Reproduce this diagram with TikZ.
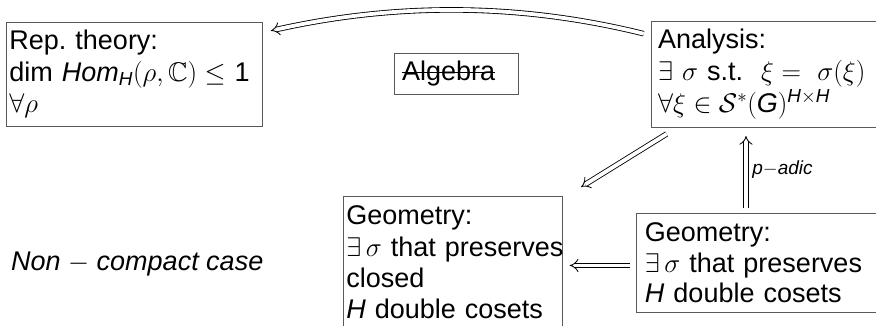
\RequirePackage{fix-cm}
\documentclass[tikz,border=0pt]{standalone}
\usepackage{amsmath,amssymb}
\usepackage{fontspec}
\setmainfont{Liberation Sans}
\usetikzlibrary{arrows.meta,calc}
\newcommand{\sit}[1]{\text{\itshape #1}}
\newcommand{\strk}[1]{\setbox0\hbox{#1}\rlap{\rule[0.3em]{\wd0}{1.1pt}}\box0}
\frenchspacing
\begin{document}
\begin{tikzpicture}[x=1pt,y=-1pt,
  box/.style={draw=black!65, line width=0.9pt, anchor=north west, align=left, inner ysep=0pt,
    font=\fontsize{27}{31.5}\selectfont\frenchspacing},
  imp/.style={double, double distance=3.8pt, line width=0.85pt, -{Implies[scale=1.55]}},
  plain/.style={font=\fontsize{27}{31.5}\selectfont\itshape, inner sep=0pt, anchor=base west},
  lbl/.style={font=\fontsize{19}{22}\selectfont\itshape, inner sep=0pt, anchor=base west}
]
\useasboundingbox (0,0) rectangle (876,325);

\node[box, text width=250pt, inner xsep=3pt, minimum height=104.3pt] (rep) at (6,21.7)
  {Rep. theory:\\ \mbox{dim $\sit{Hom}_{\sit{H}}(\rho,\mathbb{C})\le$ 1}\\ $\forall\rho$};

\node[box, text width=230pt, inner xsep=7pt, minimum height=106.3pt,
  font=\fontsize{27}{32}\selectfont\frenchspacing] (ana) at (650.7,20.7)
  {Analysis:\\ \mbox{$\exists\ \sigma$ s.t.\ \ $\xi = \ \sigma(\xi)$}\\
   $\forall\xi\in\mathcal{S}^*(\sit{G})^{\sit{H}\times\sit{H}}$};

\node[box, text width=108.3pt, inner xsep=7.7pt, minimum height=41.3pt] (alg) at (394,52.7)
  {\strk{Algebra}};

\node[box, text width=213pt, inner xsep=3.2pt, minimum height=132pt,
  font=\fontsize{27}{31.3}\selectfont] (geoL) at (342.7,196)
  {Geometry:\\ \mbox{$\exists\,\sigma$ that preserves}\\ closed\\ \mbox{\textit{H} double cosets}};

\node[box, text width=240pt, inner xsep=8.5pt, minimum height=98.4pt,
  font=\fontsize{27}{30.5}\selectfont] (geoR) at (636,213.3)
  {Geometry:\\ \mbox{$\exists\,\sigma$ that preserves}\\ \mbox{\textit{H} double cosets}};

\node[plain] (nc) at (11,270) {Non $-$ compact case};

\draw[imp] ($(ana.north west)+(-7,13)$) .. controls +(-125,-31) and +(125,-28) ..
  ($(rep.north east)+(8,9)$);
\draw[imp] ($(ana.south west)+(16,6)$) -- ($(geoL.north east)+(18,-9)$);
\draw[imp] ($(geoR.north west)+(110,-5)$) -- ($(ana.south west)+(95.3,8)$)
  node[lbl, pos=0.5, xshift=6pt, yshift=-2pt] (lab) {p$-$adic};
\draw[imp] ($(geoR.west)+(-6,2.5)$) -- ($(geoL.east |- geoR.west)+(6.7,2.5)$);
\end{tikzpicture}
\end{document}
